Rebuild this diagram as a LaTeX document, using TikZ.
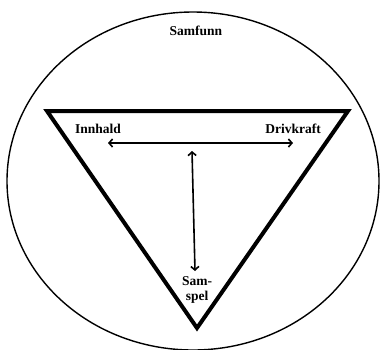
\documentclass[tikz,border=0pt]{standalone}
\usepackage{fontspec}
\setmainfont{Liberation Serif}
\usetikzlibrary{arrows.meta, positioning}

\begin{document}
\begin{tikzpicture}[
    x=1pt, y=-1pt,
    label/.style={font=\fontsize{13.5}{15}\selectfont\bfseries, align=center, inner sep=0pt},
    frame/.style={line width=4pt, line join=miter},
    arrow/.style={{Straight Barb[length=3.5pt,width=8pt]}-{Straight Barb[length=3.5pt,width=8pt]}, line width=1.6pt}
]
    \useasboundingbox (0,0) rectangle (380,349);
    \draw[line width=1.4pt] (193,181) ellipse [x radius=186pt, y radius=169pt];

    \coordinate (left) at (47,111);
    \coordinate (right) at (348,111);
    \coordinate (bottom) at (197,328);
    \draw[frame] (left) -- (right) -- (bottom) -- cycle;

    \node[label] (samfunn) at (196,31) {Samfunn};
    \node[label] (innhald) at (98,129) {Innhald};
    \node[label] (drivkraft) at (293,129) {Drivkraft};
    \node[label] (samspel) at (197,290) {Sam-\\spel};

    \coordinate (htail) at (108,143);
    \coordinate (hhead) at (293,143);
    \coordinate (vtail) at (192,151);
    \coordinate (vhead) at (195,271);
    \draw[arrow] (htail) -- (hhead);
    \draw[arrow] (vtail) -- (vhead);
\end{tikzpicture}
\end{document}
